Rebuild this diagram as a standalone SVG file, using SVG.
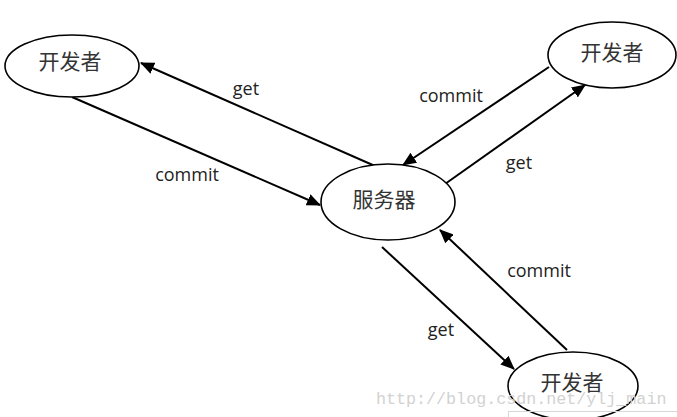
<svg xmlns="http://www.w3.org/2000/svg" width="677" height="417" viewBox="0 0 677 417">
<style>
.node ellipse{fill:#fff;stroke:#000;stroke-width:1.6}
.node text{font-family:"Noto Sans CJK SC","Noto Sans CJK JP",sans-serif;font-size:21px;fill:#333;text-anchor:middle}
.edge line{stroke:#000;stroke-width:2;marker-end:url(#ah)}
.lbl{font-family:"Open Sans","Liberation Sans",sans-serif;font-size:18px;fill:#222;text-anchor:middle}
.wm{font-family:"Liberation Mono",monospace;font-size:16.7px;fill:#d2d2d2}
</style>
<defs>
<marker id="ah" markerUnits="userSpaceOnUse" markerWidth="14" markerHeight="12" refX="13" refY="6" orient="auto">
<path d="M0,0 L14,6 L0,12 Z" fill="#000"/>
</marker>
</defs>
<rect width="677" height="417" fill="#fff"/>
<g id="connectors" class="edge">
<line x1="375" y1="166" x2="141" y2="63"/>
<line x1="72" y1="97" x2="320" y2="205"/>
<line x1="549" y1="67" x2="403" y2="165"/>
<line x1="445" y1="184" x2="585" y2="85"/>
<line x1="567" y1="350" x2="440" y2="230"/>
<line x1="382" y1="247" x2="514" y2="369"/>
</g>
<g id="labels">
<text class="lbl" x="246" y="95">get</text>
<text class="lbl" x="187" y="181">commit</text>
<text class="lbl" x="451" y="102">commit</text>
<text class="lbl" x="519" y="169">get</text>
<text class="lbl" x="539" y="277">commit</text>
<text class="lbl" x="441" y="336">get</text>
</g>
<g id="dev1" class="node">
<ellipse cx="72" cy="66" rx="67" ry="31"/>
<text x="70" y="69">开发者</text>
</g>
<g id="server" class="node">
<ellipse cx="388" cy="202" rx="67" ry="38"/>
<text x="384" y="207">服务器</text>
</g>
<g id="dev2" class="node">
<ellipse cx="612" cy="55" rx="64" ry="33"/>
<text x="612" y="60">开发者</text>
</g>
<g id="dev3" class="node">
<ellipse cx="573" cy="386" rx="65" ry="34"/>
<text x="572" y="390">开发者</text>
</g>
<text class="wm" x="376" y="404">http://blog.csdn.net/ylj_main</text>
<rect x="508.5" y="411.5" width="180" height="10" fill="none" stroke="#d8d8d8" stroke-width="1"/>
</svg>
